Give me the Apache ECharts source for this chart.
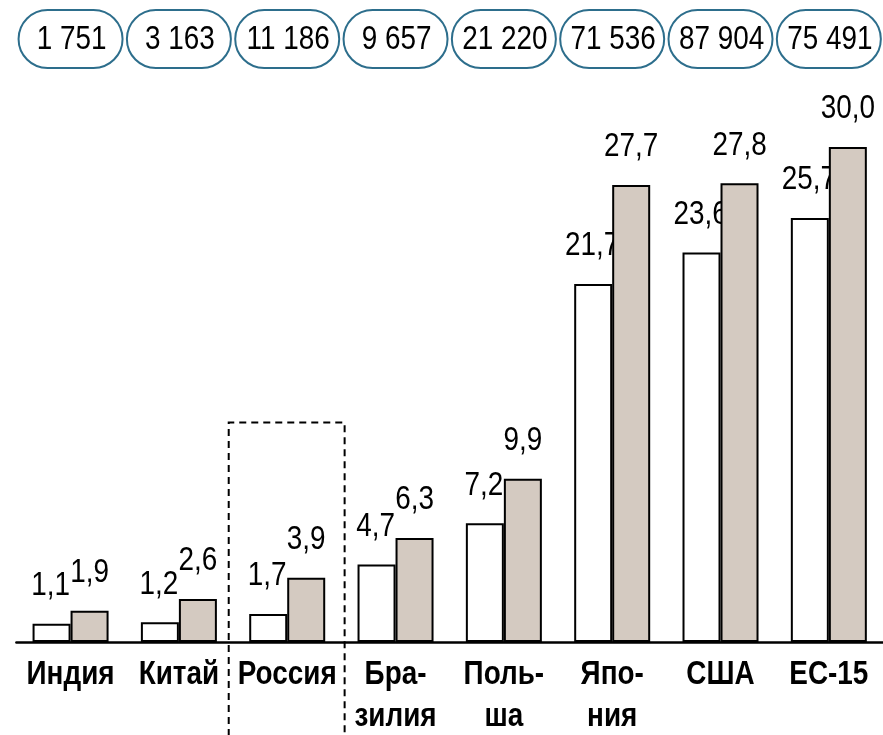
<!DOCTYPE html>
<html><head><meta charset="utf-8">
<script src="https://cdn.jsdelivr.net/npm/echarts@6/dist/echarts.min.js"></script>
<style>html,body{margin:0;padding:0;background:#fff}#c{width:883px;height:735px}</style>
</head><body><div id="c"></div>
<script>
const categories = ['Индия','Китай','Россия','Бра-\nзилия','Поль-\nша','Япо-\nния','США','ЕС-15'];
const totals = ['1 751','3 163','11 186','9 657','21 220','71 536','87 904','75 491'];
const seriesA = [1.1, 1.2, 1.7, 4.7, 7.2, 21.7, 23.6, 25.7];
const seriesB = [1.9, 2.6, 3.9, 6.3, 9.9, 27.7, 27.8, 30.0];
const highlightCategory = 'Россия';
const highlightTopValue = 13.3;

const FACE = "'Liberation Sans', Arial, sans-serif";
const NARROW = 0.82;            // emulate Arial Narrow
const FS = 34;
const BAR_W = 38;
const fmt = v => v.toFixed(1).replace('.', ',');

function narrowText(x, y, text, size, bold, va) {
  return {
    type: 'text', x: x, y: y, scaleX: NARROW,
    style: {text: text, font: (bold ? 'bold ' : '') + size + 'px ' + FACE, fill: '#000', align: 'center', verticalAlign: va || 'middle'}
  };
}

const chart = echarts.init(document.getElementById('c'));
chart.setOption({
  animation: false,
  grid: {left: 16.4, right: -7.7, top: 81, bottom: 93},
  xAxis: {
    type: 'category', data: categories,
    axisLine: {show: true, lineStyle: {color: '#000', width: 2.5}},
    axisTick: {show: false},
    axisLabel: {show: false}
  },
  yAxis: {type: 'value', min: 0, max: 34, show: false, splitLine: {show: false}},
  series: [{
    type: 'bar', data: seriesA, barWidth: BAR_W, barGap: '0%',
    itemStyle: {color: '#fff', borderColor: '#000', borderWidth: 2}
  }, {
    type: 'bar', data: seriesB, barWidth: BAR_W, barGap: '0%',
    itemStyle: {color: '#d4cac1', borderColor: '#000', borderWidth: 2}
  }, {
    // value labels above bars
    type: 'custom', clip: false, silent: true,
    data: categories.map((c, i) => [i, seriesA[i], seriesB[i]]),
    encode: {x: 0, y: [1, 2]},
    renderItem: function (params, api) {
      const i = api.value(0);
      const pa = api.coord([i, api.value(1)]);
      const pb = api.coord([i, api.value(2)]);
      return {type: 'group', children: [
        narrowText(pa[0] - BAR_W / 2 - 1, pa[1] - 38, fmt(api.value(1)), FS, false),
        narrowText(pb[0] + BAR_W / 2, pb[1] - 38, fmt(api.value(2)), FS, false)
      ]};
    }
  }, {
    // category names below axis and totals in pills above the chart
    type: 'custom', clip: false, silent: true,
    data: categories.map((c, i) => [i, 0]),
    encode: {x: 0, y: 1},
    renderItem: function (params, api) {
      const i = api.value(0);
      const p = api.coord([i, 0]);
      const lines = categories[params.dataIndex].split('\n');
      const children = lines.map((ln, k) => narrowText(p[0], p[1] + 33 + k * 42, ln, FS, true));
      children.push({
        type: 'rect', shape: {x: p[0] - 52, y: 10, width: 104, height: 58, r: 29},
        style: {fill: '#fff', stroke: '#2d6e8c', lineWidth: 2}
      });
      children.push(narrowText(p[0] + 1, 40, totals[params.dataIndex], FS, false));
      return {type: 'group', children: children};
    }
  }]
});

const idx = categories.indexOf(highlightCategory);
const cx = chart.convertToPixel({xAxisIndex: 0}, idx);
const band = chart.convertToPixel({xAxisIndex: 0}, 1) - chart.convertToPixel({xAxisIndex: 0}, 0);
const topY = chart.convertToPixel({yAxisIndex: 0}, highlightTopValue);
const l = cx - band * 0.54, r = cx + band * 0.53;
chart.setOption({graphic: [{
  type: 'polyline', silent: true,
  shape: {points: [[l, 760], [l, topY], [r, topY], [r, 760]]},
  style: {stroke: '#000', lineWidth: 2, lineDash: [7, 5], fill: null}
}]});
</script></body></html>
